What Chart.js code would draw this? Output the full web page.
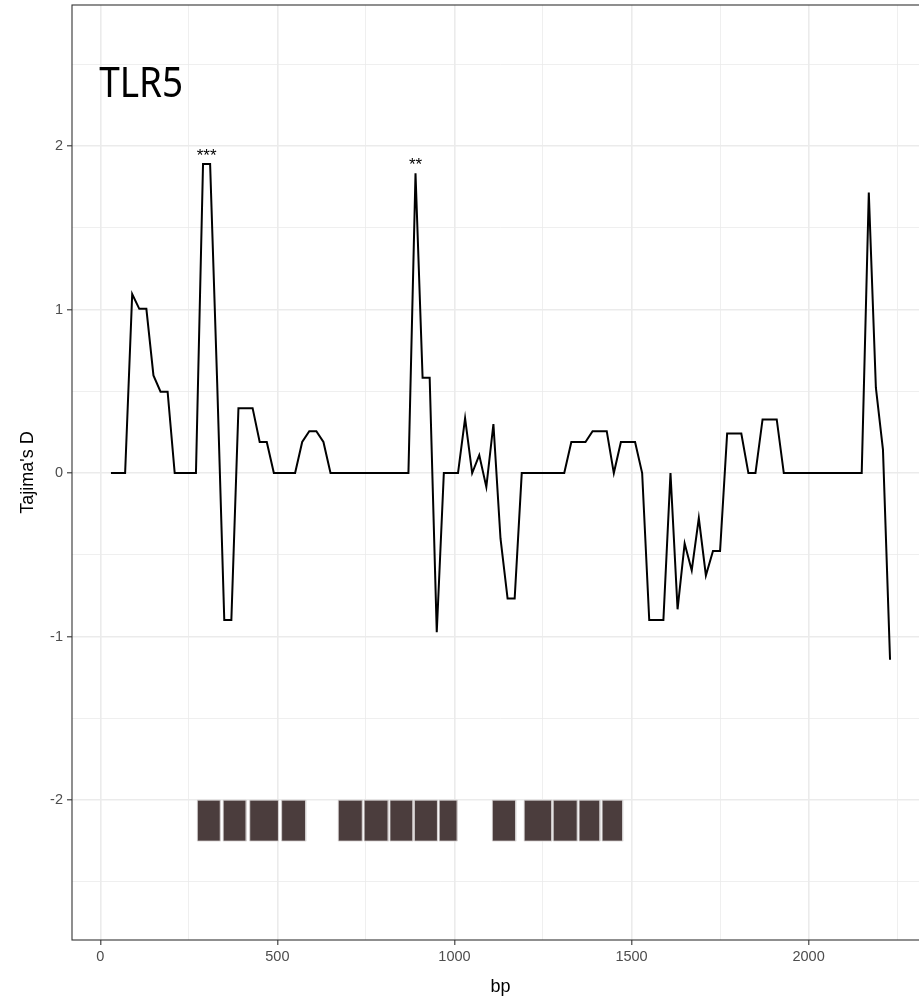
<!DOCTYPE html>
<html>
<head>
<meta charset="utf-8">
<script src="https://cdn.jsdelivr.net/npm/chart.js@4.4.1/dist/chart.umd.min.js"></script>
<style>
  html, body { margin: 0; padding: 0; background: #ffffff; overflow: hidden; }
  #wrap { width: 919px; height: 1002px; overflow: hidden; }
</style>
</head>
<body>
<div id="wrap"><canvas id="c" width="940" height="1002"></canvas></div>
<script>
// ---- data ----
const positions = [30,50,70,90,110,130,150,170,190,210,230,250,270,290,310,330,350,370,390,410,
  430,450,470,490,510,530,550,570,590,610,630,650,670,690,710,730,750,770,790,810,
  830,850,870,890,910,930,950,970,990,1010,1030,1050,1070,1090,1110,1130,1150,1170,1190,1210,
  1230,1250,1270,1290,1310,1330,1350,1370,1390,1410,1430,1450,1470,1490,1510,1530,1550,1570,1590,1610,
  1630,1650,1670,1690,1710,1730,1750,1770,1790,1810,1830,1850,1870,1890,1910,1930,1950,1970,1990,2010,
  2030,2050,2070,2090,2110,2130,2150,2170,2190,2210,2230];
const tajimaD = [0,0,0,1.095,1.004,1.004,0.597,0.498,0.498,0,0,0,0,1.89,1.89,0.55,-0.899,-0.899,0.397,0.397,
  0.397,0.19,0.19,0,0,0,0,0.19,0.256,0.256,0.19,0,0,0,0,0,0,0,0,0,
  0,0,0,1.833,0.583,0.583,-0.973,0,0,0,0.335,0,0.11,-0.085,0.30,-0.40,-0.767,-0.767,0,0,
  0,0,0,0,0,0.19,0.19,0.19,0.256,0.256,0.256,0,0.19,0.19,0.19,0,-0.899,-0.899,-0.899,0,
  -0.833,-0.43,-0.595,-0.275,-0.626,-0.477,-0.477,0.242,0.242,0.242,0,0,0.328,0.328,0.328,0,0,0,0,0,
  0,0,0,0,0,0,0,1.716,0.522,0.143,-1.141];

const exonStart = [274,347,422,512,672,745,818,887,957,1107,1197,1279,1352,1417];
const exonEnd   = [339,412,503,580,740,813,883,952,1008,1173,1275,1347,1411,1475];
const exonTop = -2.0;
const exonBottom = -2.25;

const sigLabels = ['***', '**'];
const sigX = [300, 890];
const sigY = [1.935, 1.88];

const geneName = 'TLR5';
const geneX = -3;
const geneY = 2.30;

const xMajorTicks = [0, 500, 1000, 1500, 2000];
const xMinorTicks = [250, 750, 1250, 1750, 2250];
const yMajorTicks = [-2, -1, 0, 1, 2];
const yMinorTicks = [-2.5, -1.5, -0.5, 0.5, 1.5, 2.5];
const xLimits = [-80, 2340];
const yLimits = [-2.855, 2.862];

// ---- build datasets ----
const lineData = positions.map((p, i) => ({ x: p, y: tajimaD[i] }));
const exonSets = exonStart.map((s, i) => ({
  type: 'line',
  data: [
    { x: s, y: exonTop }, { x: exonEnd[i], y: exonTop },
    { x: exonEnd[i], y: exonBottom }, { x: s, y: exonBottom }, { x: s, y: exonTop }
  ],
  fill: 'shape',
  backgroundColor: '#4b3d3d',
  borderColor: '#d6d2d2',
  borderWidth: 0.8,
  pointRadius: 0,
  tension: 0,
  order: 2
}));

const GRID = '#ebebeb';
function isMajor(list, v) { return list.some(t => Math.abs(t - v) < 1e-9); }

const panelPlugin = {
  id: 'panel',
  afterDraw(chart) {
    const { ctx, chartArea: a, scales } = chart;
    ctx.save();
    // significance labels
    ctx.fillStyle = '#000000';
    ctx.font = '17px "Liberation Sans", Arial, sans-serif';
    ctx.textAlign = 'center';
    ctx.textBaseline = 'middle';
    sigLabels.forEach((t, i) => {
      ctx.fillText(t, scales.x.getPixelForValue(sigX[i]), scales.y.getPixelForValue(sigY[i]));
    });
    // gene name
    const gx = scales.x.getPixelForValue(geneX);
    const gy = scales.y.getPixelForValue(geneY);
    ctx.save();
    ctx.translate(gx, gy);
    ctx.scale(0.9, 1);
    ctx.font = '41px "Noto Sans", "DejaVu Sans", sans-serif';
    ctx.textAlign = 'left';
    ctx.textBaseline = 'alphabetic';
    ctx.fillText(geneName, 0, 0);
    ctx.restore();
    // panel border
    ctx.strokeStyle = '#333333';
    ctx.lineWidth = 1.1;
    ctx.strokeRect(a.left, a.top, a.right - a.left, a.bottom - a.top);
    ctx.restore();
  }
};

new Chart(document.getElementById('c'), {
  type: 'line',
  data: {
    datasets: [
      {
        data: lineData,
        borderColor: '#000000',
        borderWidth: 2,
        pointRadius: 0,
        tension: 0,
        fill: false,
        order: 1
      },
      ...exonSets
    ]
  },
  options: {
    responsive: false,
    devicePixelRatio: 1,
    animation: false,
    layout: { padding: { left: 0, top: 5, right: 11, bottom: 0 } },
    plugins: { legend: { display: false }, tooltip: { enabled: false } },
    scales: {
      x: {
        type: 'linear',
        min: xLimits[0],
        max: xLimits[1],
        afterBuildTicks(scale) {
          scale.ticks = [...xMajorTicks, ...xMinorTicks].sort((a, b) => a - b).map(v => ({ value: v }));
        },
        afterFit(scale) {
          scale.height = 62;
          scale.paddingLeft = 0; scale.paddingRight = 0;
        },
        ticks: {
          autoSkip: false,
          maxRotation: 0,
          padding: 3,
          color: '#4d4d4d',
          font: { family: '"Liberation Sans", Arial, sans-serif', size: 14.5 },
          callback: (v) => isMajor(xMajorTicks, v) ? String(v) : ''
        },
        grid: {
          color: GRID,
          lineWidth: (c) => (c.tick && isMajor(xMajorTicks, c.tick.value)) ? 1.6 : 0.8,
          tickColor: (c) => (c.tick && isMajor(xMajorTicks, c.tick.value)) ? '#333333' : 'rgba(0,0,0,0)',
          tickLength: 5,
          tickWidth: 1.1
        },
        border: { display: false },
        title: {
          display: true,
          text: 'bp',
          color: '#000000',
          font: { family: '"Liberation Sans", Arial, sans-serif', size: 18 },
          padding: { top: 0, bottom: 4 }
        }
      },
      y: {
        type: 'linear',
        min: yLimits[0],
        max: yLimits[1],
        afterBuildTicks(scale) {
          scale.ticks = [...yMajorTicks, ...yMinorTicks].sort((a, b) => a - b).map(v => ({ value: v }));
        },
        afterFit(scale) {
          scale.width = 72;
          scale.paddingTop = 0; scale.paddingBottom = 0;
        },
        ticks: {
          autoSkip: false,
          padding: 4,
          color: '#4d4d4d',
          font: { family: '"Liberation Sans", Arial, sans-serif', size: 14.5 },
          callback: (v) => isMajor(yMajorTicks, v) ? String(v) : ''
        },
        grid: {
          color: GRID,
          lineWidth: (c) => (c.tick && isMajor(yMajorTicks, c.tick.value)) ? 1.6 : 0.8,
          tickColor: (c) => (c.tick && isMajor(yMajorTicks, c.tick.value)) ? '#333333' : 'rgba(0,0,0,0)',
          tickLength: 5,
          tickWidth: 1.1
        },
        border: { display: false },
        title: {
          display: true,
          text: "Tajima's D",
          color: '#000000',
          font: { family: '"Liberation Sans", Arial, sans-serif', size: 18 },
          padding: { top: 17, bottom: 0 }
        }
      }
    }
  },
  plugins: [panelPlugin]
});
</script>
</body>
</html>
